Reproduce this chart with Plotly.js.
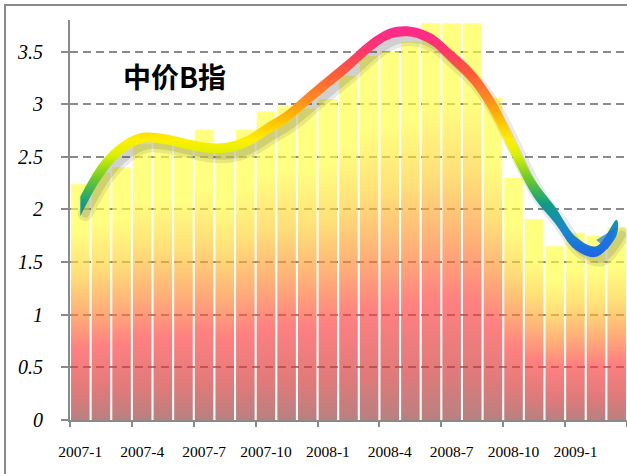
<!DOCTYPE html>
<html>
<head>
<meta charset="utf-8">
<script src="https://cdn.plot.ly/plotly-3.0.1.min.js"></script>
<style>
  html, body { margin: 0; padding: 0; background: #ffffff; overflow: hidden; }
  #chart { position: absolute; left: 0; top: 0; width: 627px; height: 474px; }
  #frame { position: absolute; left: 4px; top: 4px; width: 700px; height: 600px;
           border: 2px solid #8a8a8a; pointer-events: none; z-index: 5; }
  path.js-line { stroke-linecap: round; stroke-linejoin: round; }
</style>
</head>
<body>
<div id="chart"></div>
<div id="frame"></div>
<script>
// ---- data ----
const months = ["2007-1","2007-2","2007-3","2007-4","2007-5","2007-6","2007-7","2007-8","2007-9",
  "2007-10","2007-11","2007-12","2008-1","2008-2","2008-3","2008-4","2008-5","2008-6",
  "2008-7","2008-8","2008-9","2008-10","2008-11","2008-12","2009-1","2009-2","2009-3"];
const barValues = [2.24, 2.35, 2.40, 2.62, 2.63, 2.62, 2.76, 2.58, 2.76,
  2.93, 2.98, 2.96, 3.05, 3.27, 3.46, 3.50, 3.59, 3.77,
  3.77, 3.77, 3.06, 2.30, 1.91, 1.65, 1.78, 1.75, 1.83];
const trendValues = [2.03, 2.37, 2.58, 2.68, 2.67, 2.63, 2.59, 2.585, 2.64,
  2.76, 2.88, 3.045, 3.21, 3.37, 3.545, 3.67, 3.69, 3.62,
  3.45, 3.26, 2.975, 2.58, 2.20, 1.95, 1.68, 1.60, 1.83];
const yTickVals = [0, 0.5, 1, 1.5, 2, 2.5, 3, 3.5];
const yTickText = ["0", "0.5", "1", "1.5", "2", "2.5", "3", "3.5"];
const titleText = "中价B指";

// ---- styles ----
const W = 627, H = 474, M = { l: 70, r: 0, t: 20, b: 54 };
const yMax = 3.8;
const barScale = [
  [0.00, "rgb(146,60,60)"],
  [0.12, "rgb(207,50,50)"],
  [0.30, "rgb(255,60,60)"],
  [0.45, "rgb(255,133,47)"],
  [0.62, "rgb(255,207,47)"],
  [0.80, "rgb(255,255,60)"],
  [1.00, "rgb(255,255,60)"]
];
const lineLo = 1.55, lineHi = 3.74;
const lineStops = [
  [1.55, "rgb(30,100,230)"],
  [1.80, "rgb(24,136,204)"],
  [2.05, "rgb(14,156,136)"],
  [2.30, "rgb(110,204,40)"],
  [2.52, "rgb(220,240,0)"],
  [2.66, "rgb(255,240,0)"],
  [2.85, "rgb(255,192,0)"],
  [3.05, "rgb(255,138,32)"],
  [3.30, "rgb(255,90,58)"],
  [3.50, "rgb(255,56,104)"],
  [3.74, "rgb(255,40,144)"]
];
const lineScale = lineStops.map(s => [(s[0] - lineLo) / (lineHi - lineLo), s[1]]);
const lineHalfPx = 4.9;

const pxPerUnit = (H - M.t - M.b) / yMax;
const pxPerCat = (W - M.l - M.r) / months.length;

const traces = [];
const halfW = 0.45;
// bars: gradient-filled rectangles on a numeric axis aligned with the category positions
barValues.forEach((v, i) => {
  traces.push({
    type: "scatter", mode: "none", xaxis: "x", yaxis: "y",
    x: [i - halfW, i - halfW, i + halfW, i + halfW],
    y: [0, v, v, 0],
    fill: "toself",
    fillgradient: { type: "vertical", colorscale: barScale, start: 0, stop: v },
    opacity: 0.65, hoverinfo: "skip", showlegend: false
  });
});
// soft shadow of the trend line
traces.push({
  type: "scatter", mode: "lines", xaxis: "x2", yaxis: "y2",
  x: months, y: trendValues,
  line: { color: "rgba(70,70,70,0.12)", width: 15, shape: "spline" },
  hoverinfo: "skip", showlegend: false
});
traces.push({
  type: "scatter", mode: "lines", xaxis: "x2", yaxis: "y2",
  x: months, y: trendValues,
  line: { color: "rgba(70,70,70,0.15)", width: 8, shape: "spline" },
  hoverinfo: "skip", showlegend: false
});
// rainbow trend line: a thick band around the trend, coloured by height
const n = trendValues.length;
const halfH = trendValues.map((v, i) => {
  const a = trendValues[Math.max(0, i - 1)], b = trendValues[Math.min(n - 1, i + 1)];
  const span = (Math.min(n - 1, i + 1) - Math.max(0, i - 1)) * pxPerCat;
  const slope = (b - a) * pxPerUnit / span;
  return lineHalfPx * Math.sqrt(1 + slope * slope) / pxPerUnit;
});
const upper = trendValues.map((v, i) => v + halfH[i]);
const lower = trendValues.map((v, i) => v - halfH[i]);
traces.push({
  type: "scatter", mode: "lines", xaxis: "x3", yaxis: "y",
  x: months.concat(months.slice().reverse()),
  y: upper.concat(lower.slice().reverse()),
  fill: "toself",
  fillgradient: { type: "vertical", colorscale: lineScale, start: lineLo, stop: lineHi },
  line: { width: 0, shape: "spline", smoothing: 1 },
  hoverinfo: "skip", showlegend: false
});
// arrow head at the last point
traces.push({
  type: "scatter", mode: "markers", xaxis: "x3", yaxis: "y",
  x: months.slice(n - 2), y: trendValues.slice(n - 2),
  marker: { symbol: ["circle", "arrow"], size: [0, 24], color: "rgb(30,112,228)",
            angleref: "previous", line: { width: 0 } },
  hoverinfo: "skip", showlegend: false
});

const layout = {
  width: W, height: H,
  margin: { l: M.l, r: M.r, t: M.t, b: M.b, pad: 0 },
  paper_bgcolor: "rgba(0,0,0,0)", plot_bgcolor: "rgba(0,0,0,0)",
  showlegend: false,
  xaxis: { type: "linear", range: [-0.5, months.length - 0.5], visible: false, fixedrange: true },
  xaxis2: { type: "category", categoryorder: "array", categoryarray: months, overlaying: "x",
            range: [-0.5 - 0.25, months.length - 0.5 - 0.25], visible: false },
  xaxis3: {
    type: "category", categoryorder: "array", categoryarray: months, overlaying: "x", side: "bottom",
    range: [-0.5, months.length - 0.5],
    tickmode: "linear", tick0: 0, dtick: 3, tickson: "boundaries", tickangle: 0,
    ticks: "outside", ticklen: 5, tickwidth: 2, tickcolor: "#8a8a8a",
    showline: true, linecolor: "#8a8a8a", linewidth: 2, showgrid: false, zeroline: false,
    ticklabelstandoff: 16,
    tickfont: { family: "Liberation Serif", size: 15.5, color: "#000" }
  },
  yaxis: {
    range: [0, yMax], tickmode: "array", tickvals: yTickVals, ticktext: yTickText,
    ticks: "outside", ticklen: 7, tickwidth: 2, tickcolor: "#8a8a8a",
    showline: true, linecolor: "#8a8a8a", linewidth: 2, zeroline: false,
    showgrid: true, gridcolor: "#8a8a8a", gridwidth: 2, griddash: "8px,5px",
    ticklabelstandoff: 14,
    tickfont: { family: "Liberation Serif", size: 20, color: "#000", style: "italic" }
  },
  yaxis2: { range: [0.07, yMax + 0.07], overlaying: "y", visible: false },
  annotations: [{
    text: "<b>" + titleText + "</b>", xref: "paper", yref: "paper", x: 0.187, y: 0.861,
    xanchor: "center", yanchor: "middle", showarrow: false,
    font: { family: "Noto Sans CJK SC", size: 28, color: "#000" }
  }]
};

Plotly.newPlot("chart", traces, layout, { staticPlot: true, displayModeBar: false });
</script>
</body>
</html>
